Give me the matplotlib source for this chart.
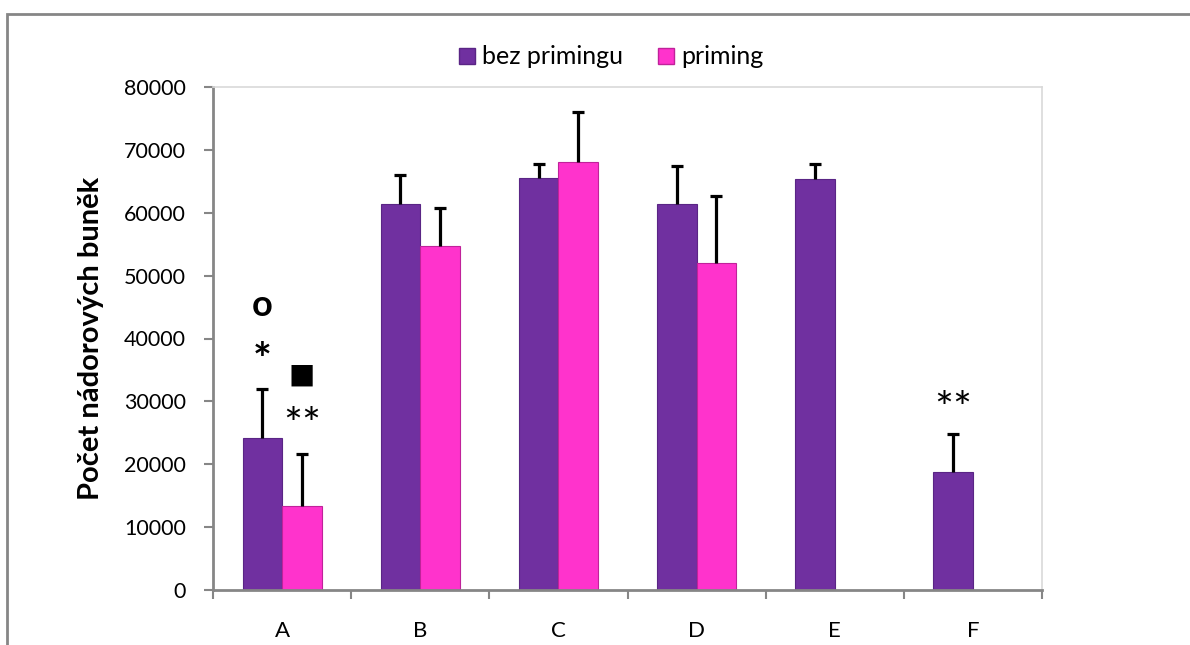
import matplotlib
matplotlib.use("Agg")
import matplotlib.pyplot as plt
import numpy as np
from matplotlib.patches import Rectangle
from matplotlib.lines import Line2D

categories = ["A", "B", "C", "D", "E", "F"]
bez_primingu = [24100, 61400, 65500, 61400, 65400, 18700]
bez_err = [7900, 4600, 2200, 6100, 2300, 6100]
priming = [13300, 54700, 68000, 52000, np.nan, np.nan]
priming_err = [8400, 6100, 8000, 10600, np.nan, np.nan]
yticks = [0, 10000, 20000, 30000, 40000, 50000, 60000, 70000, 80000]

plt.rcParams['font.family'] = ['Lato', 'DejaVu Sans']

fig = plt.figure(figsize=(11.9, 6.45), dpi=100)
# outer chart border (top and left visible)
fig.patches.append(Rectangle((7/1190, -0.1), 1.2, (645-14)/645 + 0.1, transform=fig.transFigure,
                             fill=False, edgecolor='#868686', linewidth=2.0))

ax = fig.add_axes([213/1190, 55/645, (1042-213)/1190, (590-87)/645])
x = np.arange(len(categories))
w = 0.286
off = 0.143
purple = '#7030A0'
pink = '#FF33CC'
ax.bar(x - off, bez_primingu, w, color=purple, edgecolor='#5a2585', linewidth=0.8,
       label='bez primingu', zorder=2)
ax.bar(x + off, priming, w, color=pink, edgecolor='#c0229a', linewidth=0.8,
       label='priming', zorder=2)

# upper-only error bars
for xs, vals, errs in [(x - off, bez_primingu, bez_err), (x + off, priming, priming_err)]:
    vals = np.asarray(vals, float)
    errs = np.asarray(errs, float)
    ok = ~np.isnan(vals)
    ax.vlines(xs[ok], vals[ok], vals[ok] + errs[ok], color='black', linewidth=2.3, zorder=3)
    ax.plot(xs[ok], vals[ok] + errs[ok], linestyle='none', marker='_', markersize=9,
            markeredgewidth=2.3, color='black', zorder=3)

ax.set_xlim(-0.5, len(categories) - 0.5)
ax.set_ylim(0, 80000)
ax.set_yticks(yticks)
ax.set_yticklabels([str(v) for v in yticks], fontsize=15.5)
ax.set_xticks(x)
ax.set_xticklabels(categories, fontsize=16)
ax.tick_params(axis='x', which='major', length=0, pad=22)
ax.set_xticks(np.arange(-0.5, len(categories), 1.0), minor=True)
ax.tick_params(axis='x', which='minor', length=6.5, width=1.5, color='#868686', direction='out')
ax.tick_params(axis='y', length=6.5, width=1.5, color='#868686', direction='out', pad=13)

for s in ['left', 'bottom']:
    ax.spines[s].set_color('#868686')
    ax.spines[s].set_linewidth(2)
for s in ['top', 'right']:
    ax.spines[s].set_color('#d9d9d9')
    ax.spines[s].set_linewidth(1.2)

ax.set_ylabel('Počet nádorových buněk', fontsize=21, fontweight='bold', labelpad=14)

# annotations
ax.text(0 - off, 45300, 'o', fontsize=26, fontweight='bold', ha='center', va='center')
ax.text(0 - off, 36400, '*', fontsize=32, fontweight='bold', ha='center', va='center')
ax.text(0 + off, 34300, '■', fontsize=20, ha='center', va='center', family=['DejaVu Sans'])
ax.text(0 + off, 26000, '**', fontsize=32, ha='center', va='center')
ax.text(5 - off, 28600, '**', fontsize=32, ha='center', va='center')

handles = [Line2D([], [], marker='s', linestyle='none', markersize=11, markerfacecolor=purple,
                  markeredgecolor='#5a2585'),
           Line2D([], [], marker='s', linestyle='none', markersize=11, markerfacecolor=pink,
                  markeredgecolor='#c0229a')]
fig.legend(handles, ['bez primingu', 'priming'], loc='center', bbox_to_anchor=(609/1190, 1 - 57/645),
           ncol=2, frameon=False, fontsize=18, handletextpad=0.1, columnspacing=1.2,
           handlelength=1.0)

fig.savefig('out.png', dpi=100, facecolor='white')
